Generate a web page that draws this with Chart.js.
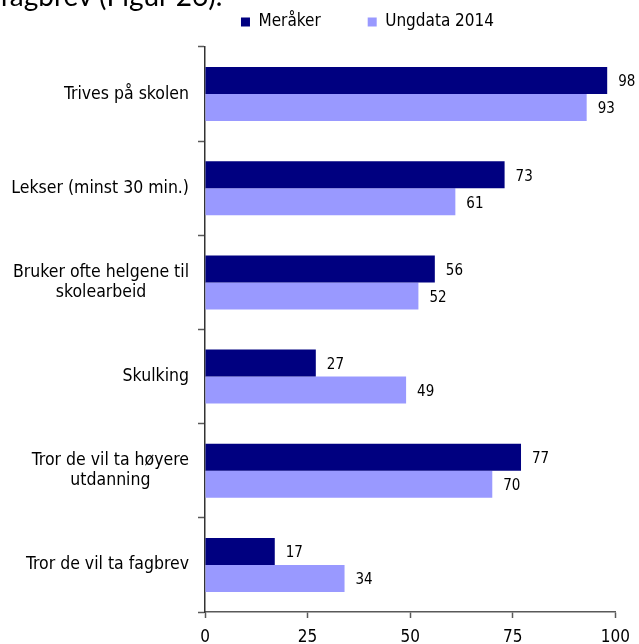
<!DOCTYPE html>
<html lang="no">
<head>
<meta charset="utf-8">
<title>Skole og utdanning – Meråker</title>
<script src="https://cdn.jsdelivr.net/npm/chart.js@4.4.1/dist/chart.umd.min.js"></script>
<style>
  html, body { margin: 0; padding: 0; background: #fff; overflow: hidden; }
  #wrap { position: relative; width: 639px; height: 644px; }
  #chart { position: absolute; left: 0; top: 0; }
  #lead {
    position: absolute; left: 0; top: -19px;
    font: 28px Lato, "Open Sans", sans-serif; line-height: 28px;
    white-space: nowrap; color: #000;
  }
</style>
</head>
<body>
<div id="wrap">
  <canvas id="chart" width="639" height="644"></canvas>
  <div id="lead">fagbrev (Figur 26).</div>
</div>
<script>
// Spørsmål (kategorier), ovenfra og ned
const categories = [
  'Trives på skolen',
  'Lekser (minst 30 min.)',
  ['Bruker ofte helgene til', 'skolearbeid'],
  'Skulking',
  ['Tror de vil ta høyere', 'utdanning'],
  'Tror de vil ta fagbrev'
];

// Prosent
const meraker = [98, 73, 56, 27, 77, 17];
const ungdata2014 = [93, 61, 52, 49, 70, 34];

const seriesNames = ['Meråker', 'Ungdata 2014'];
const xTicks = [0, 25, 50, 75, 100];

const FONT = '"DejaVu Sans Condensed", "DejaVu Sans", sans-serif';
const DARK = '#000080';
const LIGHT = '#9999FF';
const AXIS = '#595959';

// Kategoritekster: høyrejustert blokk, linjene sentrert innenfor blokken
const categoryLabels = {
  id: 'categoryLabels',
  afterDraw(chart) {
    const scale = chart.scales.y;
    const ctx = chart.ctx;
    const right = scale.right - 16;
    const lineH = 20;
    ctx.save();
    ctx.font = '17.5px ' + FONT;
    ctx.fillStyle = '#000';
    ctx.textAlign = 'center';
    ctx.textBaseline = 'middle';
    chart.data.labels.forEach((lab, i) => {
      const lines = Array.isArray(lab) ? lab : [lab];
      const w = Math.max(...lines.map(l => ctx.measureText(l).width));
      const cx = right - w / 2;
      const cy = scale.getPixelForTick(i);
      lines.forEach((l, k) => {
        ctx.fillText(l, cx, cy + (k - (lines.length - 1) / 2) * lineH);
      });
    });
    ctx.restore();
  }
};

// Verdier skrevet til høyre for hver søyle
const valueLabels = {
  id: 'valueLabels',
  afterDatasetsDraw(chart) {
    const ctx = chart.ctx;
    ctx.save();
    ctx.font = '15px ' + FONT;
    ctx.fillStyle = '#000';
    ctx.textAlign = 'left';
    ctx.textBaseline = 'middle';
    chart.data.datasets.forEach((ds, di) => {
      chart.getDatasetMeta(di).data.forEach((bar, i) => {
        ctx.fillText(String(ds.data[i]), bar.x + 11, bar.y + 2);
      });
    });
    ctx.restore();
  }
};

// Flytter forklaringen opp til toppen og litt mot høyre
const legendPlacement = {
  id: 'legendPlacement',
  afterLayout(chart) {
    const lg = chart.legend;
    if (!lg) return;
    lg.top = -33.5;
    lg.height = 80;
    lg.bottom = lg.top + lg.height;
    lg.left += 58;
    lg.right += 58;
  }
};

new Chart(document.getElementById('chart'), {
  type: 'bar',
  data: {
    labels: categories,
    datasets: [
      { label: seriesNames[0], data: meraker, backgroundColor: DARK, borderWidth: 0 },
      { label: seriesNames[1], data: ungdata2014, backgroundColor: LIGHT, borderWidth: 0 }
    ]
  },
  options: {
    indexAxis: 'y',
    responsive: false,
    animation: false,
    devicePixelRatio: 1,
    categoryPercentage: 0.574,
    barPercentage: 1.0,
    layout: { padding: { left: 0, right: 20, top: 0, bottom: 0 } },
    plugins: {
      legend: {
        position: 'top',
        maxHeight: 47,
        labels: {
          font: { family: FONT, size: 17 },
          color: '#000',
          boxWidth: 9,
          boxHeight: 9,
          padding: 47
        }
      },
      tooltip: { enabled: false },
      title: { display: false }
    },
    scales: {
      x: {
        type: 'linear',
        min: 0,
        max: 100,
        afterBuildTicks(scale) {
          scale.ticks = xTicks.map(v => ({ value: v }));
        },
        afterFit(scale) { scale.height = 32; },
        grid: {
          drawOnChartArea: false,
          drawTicks: true,
          tickLength: 6,
          tickColor: AXIS,
          tickWidth: 1.5
        },
        border: { display: true, color: AXIS, width: 1.5 },
        ticks: {
          font: { family: FONT, size: 17 },
          color: '#000',
          padding: 9,
          maxRotation: 0
        }
      },
      y: {
        type: 'category',
        offset: true,
        afterFit(scale) { scale.width = 205; },
        grid: {
          offset: true,
          drawOnChartArea: false,
          drawTicks: true,
          tickLength: 7,
          tickColor: AXIS,
          tickWidth: 1.5
        },
        border: { display: true, color: '#333333', width: 1.5 },
        ticks: { display: false }
      }
    }
  },
  plugins: [categoryLabels, valueLabels, legendPlacement]
});
</script>
</body>
</html>
